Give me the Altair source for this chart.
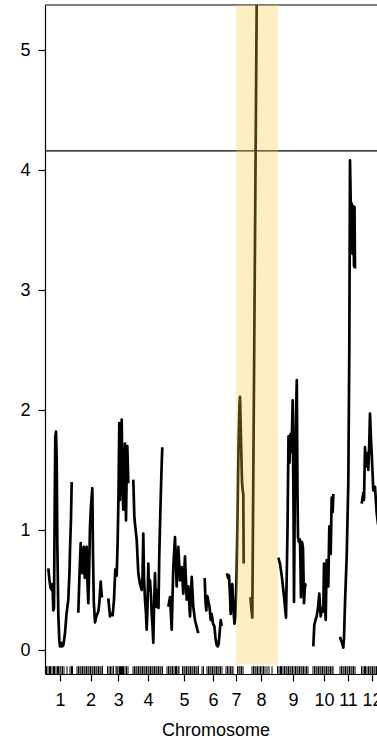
import altair as alt
import pandas as pd

FONT = "Liberation Sans"

# chromosome layout on the genome-wide axis (arbitrary genome units)
chrom_names = ["1", "2", "3", "4", "5", "6", "7", "8", "9", "10", "11", "12"]
chrom_start = [1.5, 32, 62.5, 87.5, 122, 157, 181, 204, 232, 267.5, 295, 315.5]
chrom_end = [28.5, 59, 84, 118.5, 156, 179, 201, 228, 264, 290.5, 311, 338.5]

# LOD profile, one pair of lists per chromosome (genome position, LOD)
c1_pos = [3.3, 4.5, 5.5, 6.7, 7.5, 8.3, 9, 9.7, 10.3, 11, 11.7, 12.3, 13.3, 14.3, 15, 16, 17, 18.3, 19, 20, 21.5, 23.3, 24.5, 25, 26, 26.7]
c1_lod = [0.68, 0.58, 0.52, 0.5, 0.55, 0.33, 0.35, 1.2, 1.78, 1.82, 1.6, 0.9, 0.3, 0.08, 0.03, 0.06, 0.03, 0.04, 0.08, 0.14, 0.3, 0.42, 0.65, 0.83, 1.1, 1.4]
c2_pos = [33.3, 34.3, 35.7, 36.5, 37.3, 38, 39, 39.8, 40.7, 41.7, 42.5, 43.3, 44, 45, 46, 47.3, 48, 48.8, 50, 51, 52.3, 53.3, 54.3, 55.7, 56.7, 57.7]
c2_lod = [0.31, 0.58, 0.89, 0.7, 0.64, 0.85, 0.86, 0.6, 0.75, 0.86, 0.55, 0.39, 0.6, 1.03, 1.2, 1.35, 0.8, 0.4, 0.23, 0.27, 0.3, 0.32, 0.39, 0.57, 0.45, 0.44]
c3_pos = [63.3, 65, 66.5, 67.7, 69, 70.3, 71.7, 72.7, 73.5, 74.3, 75, 75.8, 76.7, 77.5, 78.3, 79, 80, 81, 81.7, 82.3, 83.3]
c3_lod = [0.43, 0.28, 0.3, 0.29, 0.42, 0.67, 0.62, 0.92, 1.3, 1.89, 1.25, 1.6, 1.92, 1.4, 1.17, 1.45, 1.72, 1.08, 1.5, 1.7, 1.39]
c4_pos = [88.3, 89.3, 90, 91.7, 93.3, 95, 96.7, 97.5, 98.3, 99, 100, 101, 101.7, 102.5, 103.3, 104, 105, 106, 106.7, 107.5, 108.3, 109, 110, 111, 112, 112.7, 113.5, 114.3, 115.5, 116.5, 117.3]
c4_lod = [1.42, 1.12, 1.05, 0.92, 0.64, 0.55, 0.5, 0.6, 0.97, 0.6, 0.42, 0.3, 0.17, 0.35, 0.72, 0.5, 0.58, 0.45, 0.3, 0.2, 0.06, 0.35, 0.64, 0.36, 0.5, 0.47, 0.35, 0.8, 1.2, 1.5, 1.69]
c5_pos = [123.3, 125, 126.7, 128.3, 130, 131.7, 133.3, 135, 136.7, 138.3, 140, 141.7, 143.3, 145, 146.7, 148.3, 150, 151.7, 153.3]
c5_lod = [0.36, 0.44, 0.17, 0.69, 0.94, 0.53, 0.86, 0.58, 0.69, 0.47, 0.78, 0.42, 0.53, 0.28, 0.61, 0.36, 0.25, 0.19, 0.14]
c6_pos = [159.7, 160.5, 161.3, 162.3, 163.5, 164.5, 165.7, 166.7, 168, 169.3, 170.5, 171.7, 172.7, 173.7, 174.7, 175.7, 176.7]
c6_lod = [0.6, 0.4, 0.33, 0.45, 0.4, 0.36, 0.25, 0.3, 0.22, 0.2, 0.1, 0.04, 0.03, 0.05, 0.15, 0.25, 0.2]
c7_pos = [182, 183, 184, 185, 185.7, 186.5, 187.3, 188.3, 189.5, 190.3, 191.5, 192.5, 193.5, 194.5, 195, 196, 197, 197.7, 198.3, 198.7]
c7_lod = [0.64, 0.6, 0.62, 0.45, 0.3, 0.5, 0.55, 0.35, 0.22, 0.28, 0.6, 1.1, 1.7, 2.05, 2.11, 1.75, 1.4, 1.33, 1.3, 0.72]
c8_pos = [205.5, 206.3, 207.3, 213.5, 217, 222, 228]
c8_lod = [0.44, 0.35, 0.27, 7.5, 9.5, 10.4, 9.6]
c9_pos = [233.3, 235, 237, 239, 241, 242.5, 243.5, 244.5, 245.5, 246.5, 247.7, 248.5, 249, 250, 251, 251.8, 252.5, 253, 254, 255, 256, 257, 258, 259, 260, 261]
c9_lod = [0.77, 0.72, 0.6, 0.45, 0.27, 1.0, 1.78, 1.56, 1.8, 1.65, 2.08, 1.2, 0.4, 1.5, 1.95, 2.25, 1.3, 0.94, 0.9, 0.92, 0.44, 0.9, 0.85, 0.39, 0.55, 0.53]
c10_pos = [268.3, 269.3, 270.5, 271.7, 273, 274.3, 275.7, 277, 278.3, 279, 280, 280.7, 281.7, 283.3, 284.3, 285.7, 286.7, 287.7, 288.3]
c10_lod = [0.03, 0.21, 0.25, 0.28, 0.35, 0.47, 0.28, 0.35, 0.32, 0.72, 0.4, 0.25, 0.75, 0.53, 1.03, 0.8, 1.27, 1.15, 1.3]
c11_pos = [295, 296, 296.7, 298.3, 299, 300, 301.7, 303.3, 304.3, 305, 306, 306.7, 307.5, 308.3, 309, 309.5, 310]
c11_lod = [0.11, 0.08, 0.07, 0.02, 0.1, 0.39, 0.78, 1.39, 2.5, 4.08, 3.6, 3.72, 3.3, 3.7, 3.2, 3.69, 3.18]
c12_pos = [316.7, 318.3, 319, 320, 321, 322.3, 323.3, 324.2, 325, 326, 326.7, 328.3, 330, 331.7, 333, 335]
c12_lod = [1.22, 1.31, 1.25, 1.69, 1.53, 1.64, 1.5, 1.7, 1.97, 1.75, 1.64, 1.33, 1.36, 1.14, 1.05, 1.1]

# genetic markers (rug along the bottom)
marker_pos = [
    1.5, 3, 4.5, 5.5, 7, 8.5, 9.5, 11, 12.5, 13.5, 15, 16, 17.5, 19, 22, 25, 26.5, 27.5,
    32, 33.5, 35, 36, 37.5, 39, 40, 41.5, 43, 44, 45.5, 47, 48, 49.5, 51, 52, 53.5, 55, 56, 57.5,
    62.5, 64, 65.5, 67, 68.5, 71, 72, 73, 74.5, 75.5, 76.5, 77.5, 78.5, 80, 81.5, 83,
    88, 89.5, 91, 92, 93.5, 95, 96, 97.5, 99, 100, 101.5, 103, 104, 105.5, 107, 108, 109.5, 111, 112, 113.5, 115, 116, 117.5,
    122, 123.5, 125, 126, 127.5, 129, 130.5, 131.5, 133, 134, 137.5, 139, 140, 141.5, 143, 144, 145.5, 147, 148, 149.5, 151, 152, 153.5,
    157, 158.5, 162, 163.5, 165, 166, 167.5, 169, 170, 171.5, 173, 174, 175.5, 177,
    181, 182.5, 184, 185.5, 187, 188, 192.5, 194, 195, 196.5, 198,
    207, 208.5, 210, 211, 212.5, 214, 215.5, 217, 218.5, 220, 222, 224, 227,
    232.5, 234, 235.5, 236.5, 238, 239.5, 241, 242, 243.5, 245, 246, 247.5, 249, 250.5, 252, 253, 254.5, 256, 257, 258.5, 260, 261.5, 263,
    268, 269.5, 271, 272, 273.5, 275, 276, 277.5, 279, 280, 281.5, 283, 284, 285.5, 287, 288,
    295, 296.5, 298, 299, 300.5, 302, 303, 304.5, 306, 307, 308.5, 310,
    316.5, 318, 319.5, 320.5, 322, 323.5, 325, 326, 327.5, 329, 330, 331.5, 333, 334,
]

threshold = [4.16]
band_start = [191]
band_end = [233]
band_low = [-0.12]

x_domain = [0, 332]
y_domain = [-0.2, 5.375]
rug_top = -0.135

# ---- tables built from the arrays ----
chroms = [
    (c1_pos, c1_lod), (c2_pos, c2_lod), (c3_pos, c3_lod), (c4_pos, c4_lod),
    (c5_pos, c5_lod), (c6_pos, c6_lod), (c7_pos, c7_lod), (c8_pos, c8_lod),
    (c9_pos, c9_lod), (c10_pos, c10_lod), (c11_pos, c11_lod), (c12_pos, c12_lod),
]
rows = []
for name, (ps, ls) in zip(chrom_names, chroms):
    for p, l in zip(ps, ls):
        rows.append({"chr": name, "pos": p, "lod": l})
curve = pd.DataFrame(rows)

mids = [(s + e) / 2 for s, e in zip(chrom_start, chrom_end)]
label_expr = ""
for m, n in zip(mids, chrom_names):
    label_expr += f"abs(datum.value - {m}) < 0.01 ? '{n}' : "
label_expr += "''"

markers = pd.DataFrame({"pos": marker_pos})
thr = pd.DataFrame({"lod": threshold})
band = pd.DataFrame({"start": band_start, "end": band_end, "low": band_low, "high": [y_domain[1]]})
top = pd.DataFrame({"lod": [y_domain[1]]})

xs = alt.Scale(domain=x_domain, nice=False, zero=False)
ys = alt.Scale(domain=y_domain, nice=False, zero=False)

x_axis = alt.Axis(
    values=mids, labelExpr=label_expr, title="Chromosome", grid=False,
    tickSize=7, labelPadding=10, labelFontSize=18, labelFont=FONT, labelColor="black",
    titleFontSize=18, titleFont=FONT, titleFontWeight="normal", titleColor="black",
    titleX=170.5, titleY=61, titleBaseline="alphabetic", titleAlign="center",
    domainColor="black", tickColor="black", labelOverlap=False, labelFlush=False,
)
y_axis = alt.Axis(
    values=[0, 1, 2, 3, 4, 5], title=None, grid=False, tickSize=7, labelPadding=8,
    labelFontSize=18, labelFont=FONT, labelColor="black",
    domainColor="black", tickColor="black",
)

line = alt.Chart(curve).mark_line(color="black", strokeWidth=2.7, clip=True, strokeJoin="round").encode(
    x=alt.X("pos:Q", scale=xs, axis=x_axis),
    y=alt.Y("lod:Q", scale=ys, axis=y_axis),
    detail="chr:N",
)

top_line = alt.Chart(top).mark_rule(color="black", strokeWidth=1.2).encode(
    y=alt.Y("lod:Q", scale=ys, axis=y_axis)
)

thr_line = alt.Chart(thr).mark_rule(color="black", strokeWidth=1.2).encode(
    y=alt.Y("lod:Q", scale=ys, axis=y_axis)
)

rug = alt.Chart(markers).mark_rule(color="black", strokeWidth=1).encode(
    x=alt.X("pos:Q", scale=xs, axis=x_axis),
    y=alt.Y(datum=y_domain[0], scale=ys, axis=y_axis),
    y2=alt.Y2(datum=rug_top),
)

band_rect = alt.Chart(band).mark_rect(color="#F8C63A", opacity=0.3).encode(
    x=alt.X("start:Q", scale=xs, axis=x_axis),
    x2="end:Q",
    y=alt.Y("low:Q", scale=ys, axis=y_axis),
    y2="high:Q",
)

chart = alt.layer(top_line, thr_line, line, rug, band_rect).properties(
    width=332, height=669,
    autosize="none",
    padding={"left": 45, "top": 5, "right": 0, "bottom": 66},
    background="white",
).configure_view(strokeWidth=0).configure_axis(domainWidth=1.2, tickWidth=1.2)

chart.save("out.html", embed_options={"renderer": "svg", "actions": False})
